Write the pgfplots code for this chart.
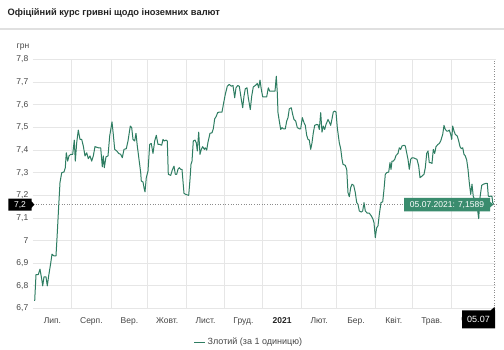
\documentclass[border=0pt]{standalone}
\usepackage{pgfplots}
\pgfplotsset{compat=1.18}
\usepackage{fontspec}
\setmainfont{Liberation Sans}
\definecolor{linegreen}{RGB}{46,125,98}
\definecolor{tipgreen}{RGB}{58,140,110}
\definecolor{gridgray}{RGB}{230,230,230}
\definecolor{labelgray}{RGB}{70,70,70}
\definecolor{titlegray}{RGB}{35,35,35}
\begin{document}
\begin{tikzpicture}[x=1pt,y=1pt]
\path[use as bounding box, fill=white] (0,0) rectangle (504,350);
\fill[black!12] (0,320) rectangle (504,322);
\node[anchor=west, inner sep=0pt, font=\fontsize{9.3}{11}\selectfont\bfseries, text=titlegray] at (7.5,337) {Офіційний курс гривні щодо іноземних валют};
\node[anchor=west, inner sep=0pt, font=\fontsize{8.5}{10}\selectfont, text=labelgray] at (16.5,303) {грн};
\begin{axis}[
  at={(33pt,41.5pt)}, anchor=south west,
  scale only axis, width=463pt, height=249pt,
  xmin=33, xmax=496, ymin=6.7, ymax=7.8,
  axis line style={draw=none},
  major tick length=0pt,
  tick style={draw=none},
  ytick={6.7,6.8,6.9,7,7.1,7.2,7.3,7.4,7.5,7.6,7.7,7.8},
  /pgf/number format/use comma,
  /pgf/number format/fixed,
  /pgf/number format/precision=1,
  /pgf/number format/assume math mode=true,
  yticklabel style={font=\fontsize{8.5}{10}\selectfont, text=labelgray, inner sep=0pt, anchor=east, xshift=-4.5pt},
  xtick={52.4,91.4,129.4,167.2,205.5,243.5,282.2,319.2,356,393.8,431.8,472},
  xticklabels={Лип.,Серп.,Вер.,Жовт.,Лист.,Груд.,{\textbf{\color{titlegray}2021}},Лют.,Бер.,Квіт.,Трав.,Черв.},
  xticklabel style={font=\fontsize{8.5}{10}\selectfont, text=labelgray, inner sep=0pt, anchor=north, yshift=-8.6pt},
  extra x ticks={71.7,111,147.7,186.7,224.3,262.7,301.7,336.7,375.3,412.3,451.3},
  extra x tick labels={},
  extra x tick style={grid=major},
  ymajorgrids=true,
  grid style={gridgray, line width=0.8pt},
  legend style={at={(0.466,-0.136)}, anchor=center, draw=none, fill=none, font=\fontsize{9}{10}\selectfont, text=labelgray, inner sep=0pt},
  legend image code/.code={\draw[#1, line width=1.2pt] (0pt,0pt) -- (11pt,0pt);},
]
\addplot[linegreen, line width=1pt, line join=round] table {
x y
34.7 6.734
36 6.85
38.3 6.85
40 6.874
41.7 6.83
42.7 6.80
44 6.84
46 6.84
47.3 6.80
48.7 6.845
50.7 6.90
52 6.94
54 6.932
56 6.932
57.3 7.035
58.7 7.153
60 7.256
61.7 7.30
64 7.303
65.3 7.322
66.3 7.388
67.7 7.351
69 7.374
70.7 7.381
72.7 7.381
74.3 7.444
75.3 7.351
76.7 7.432
78.3 7.488
80 7.447
81.7 7.447
83.3 7.418
85 7.374
86.7 7.388
88.3 7.362
90 7.374
91.7 7.351
93.3 7.374
95 7.415
98.3 7.41
100.7 7.41
102.3 7.326
103.3 7.374
104.3 7.322
106 7.37
108 7.374
109.7 7.462
112 7.524
113.3 7.469
114.7 7.403
116.7 7.396
118.7 7.385
120.7 7.381
122.3 7.366
124 7.403
126.3 7.406
128 7.44
130.3 7.506
131.7 7.499
133 7.447
134.7 7.44
136 7.474
137.3 7.418
139 7.359
140.7 7.30
141.3 7.263
143 7.259
144 7.234
145 7.215
146.3 7.278
148 7.307
149.7 7.425
151.3 7.429
153 7.385
154.7 7.44
156.3 7.465
158 7.425
159.7 7.425
161.7 7.421
163 7.447
164.3 7.44
166 7.444
167.3 7.44
168.3 7.293
170.7 7.288
172.3 7.312
174 7.329
175.3 7.293
176.7 7.293
178 7.315
179.3 7.322
180.7 7.315
182 7.315
184 7.209
185.7 7.204
188.7 7.2
190 7.27
191 7.337
192 7.351
193.3 7.44
195 7.444
196.3 7.432
197.3 7.396
198.7 7.479
200 7.381
201.3 7.403
202.7 7.415
204.3 7.403
205.3 7.41
206.7 7.40
208 7.435
210 7.474
212 7.476
213.3 7.494
214.7 7.538
216 7.547
217.7 7.565
219.3 7.568
222 7.568
223.7 7.609
225.3 7.646
227.3 7.682
229.3 7.69
231.3 7.682
233 7.685
234.7 7.631
236 7.675
237.7 7.685
239.3 7.682
241.3 7.624
242.7 7.587
244 7.638
245.3 7.671
247 7.675
248.3 7.631
250.3 7.579
251.7 7.638
253.3 7.679
255.3 7.685
257.3 7.694
258.7 7.675
260 7.709
261.3 7.668
262.7 7.635
266.7 7.635
268.3 7.675
269.7 7.66
272 7.66
275 7.66
276.3 7.726
277.3 7.653
278 7.565
279.3 7.528
280.7 7.491
282 7.499
283.3 7.494
285.3 7.494
286.7 7.528
288 7.543
289.3 7.582
291.3 7.587
292.7 7.557
294 7.535
295.7 7.528
297.3 7.499
299.3 7.494
300.7 7.494
302.3 7.543
304 7.521
305.3 7.509
306.7 7.465
308 7.447
309.3 7.444
310.7 7.403
312 7.432
313.3 7.476
314.7 7.509
316.7 7.513
318 7.512
319.3 7.491
320.7 7.565
322 7.479
323.3 7.506
324.7 7.491
326 7.513
328 7.535
329.3 7.524
330.7 7.509
332 7.538
333.3 7.568
334.7 7.572
336 7.568
337.3 7.499
339.3 7.432
340.7 7.406
342 7.36
343 7.337
345.3 7.332
346.7 7.315
348 7.212
349.3 7.194
350.7 7.234
352 7.249
353.7 7.244
355.3 7.212
356.7 7.168
358 7.16
359.3 7.131
361.3 7.126
362.7 7.131
364 7.168
365.3 7.131
367.3 7.121
369.3 7.121
371.3 7.109
373 7.094
374 7.079
375.3 7.013
376.7 7.057
378 7.065
379.3 7.116
381 7.168
382.7 7.171
384 7.226
385.3 7.293
386.7 7.30
388.7 7.303
390 7.344
391 7.315
392 7.351
393.3 7.351
394.7 7.359
396 7.376
398 7.385
399.3 7.41
400.7 7.403
402 7.418
404 7.421
405.3 7.418
407 7.381
408 7.359
409.3 7.315
410.7 7.359
412 7.366
414 7.365
415.3 7.362
417 7.359
418.7 7.329
420 7.278
422 7.285
424 7.293
425.3 7.322
426.7 7.385
428 7.396
429.3 7.344
430.7 7.344
432 7.341
433.3 7.403
434.7 7.385
436 7.415
438 7.425
439.3 7.429
440.7 7.44
442.7 7.469
444 7.509
445.3 7.491
446.7 7.484
448 7.484
449.3 7.488
450.7 7.469
451.7 7.447
452.7 7.506
454 7.484
455.3 7.469
457.3 7.462
458.7 7.44
460 7.415
461.3 7.406
462.7 7.41
464 7.381
465.3 7.374
466.7 7.356
468 7.315
469.3 7.256
470.7 7.204
472 7.249
473.3 7.194
474.7 7.182
476 7.153
477.3 7.146
478.7 7.097
480 7.19
481.7 7.244
483.3 7.249
486 7.253
487.3 7.253
488.3 7.197
489.3 7.194
491 7.197
492 7.194
492.7 7.168
493.8 7.159
};
\addlegendentry{Злотий (за 1 одиницю)}
\end{axis}
% crosshair
\draw[dotted, black!45, line width=0.6pt] (33,145.4) -- (496,145.4);
\draw[dotted, black!45, line width=0.6pt] (494.3,41.5) -- (494.3,290.5);
% y crosshair label
\fill[black] (8.3,139.4) -- (31.7,139.4) -- (31.7,142.4) -- (34.5,145.4) -- (31.7,148.4) -- (31.7,151.4) -- (8.3,151.4) -- cycle;
\node[text=white, inner sep=0pt, font=\fontsize{8.5}{10}\selectfont] at (20,145.4) {7,2};
% tooltip
\fill[tipgreen] (404,138.7) -- (490,138.7) -- (490,142.4) -- (493.3,145.4) -- (490,148.4) -- (490,152.1) -- (404,152.1) -- cycle;
\node[text=white, inner sep=0pt, font=\fontsize{8.5}{10}\selectfont] at (447,145.4) {05.07.2021: 7,1589};
% x crosshair label
\fill[black] (462,21.7) -- (495,21.7) -- (495,39.5) -- (494.5,43) -- (490.5,39.5) -- (462,39.5) -- cycle;
\node[text=white, inner sep=0pt, font=\fontsize{9}{10}\selectfont] at (478.5,30.6) {05.07};
\end{tikzpicture}
\end{document}
